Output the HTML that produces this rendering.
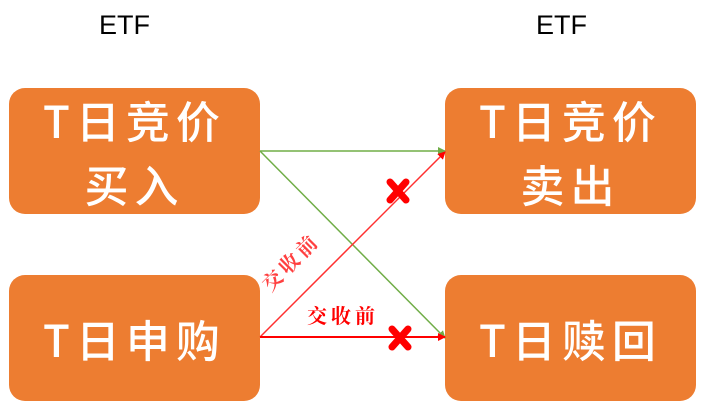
<!DOCTYPE html>
<html><head><meta charset="utf-8"><style>
body{margin:0;width:705px;height:411px;background:#fff;overflow:hidden;position:relative;font-family:"Liberation Sans","Noto Sans CJK SC",sans-serif}
.b{position:absolute;background:#ED7D31;border-radius:16px;color:#fff;text-align:center;font-family:"Noto Sans CJK SC",sans-serif;font-weight:500;font-size:44px;letter-spacing:6px;line-height:64px;display:flex;flex-direction:column;justify-content:center}
.t{position:absolute;font-size:27px;color:#000;top:10px}
</style></head><body>
<div class="t" style="left:99px">ETF</div>
<div class="t" style="left:536px">ETF</div>
<div class="b" style="left:9px;top:88px;width:251px;height:126px">T日竞价<br>买入</div>
<div class="b" style="left:445px;top:88px;width:251px;height:126px">T日竞价<br>卖出</div>
<div class="b" style="left:9px;top:275px;width:251px;height:126px">T日申购</div>
<div class="b" style="left:445px;top:275px;width:251px;height:126px">T日赎回</div>
<svg width="705" height="411" style="position:absolute;left:0;top:0">
<defs>
<marker id="g" markerWidth="8" markerHeight="8" refX="7" refY="4" orient="auto" markerUnits="userSpaceOnUse"><path d="M0,0L8,4L0,8z" fill="#70AD47"/></marker>
<marker id="r" markerWidth="8" markerHeight="8" refX="7" refY="4" orient="auto" markerUnits="userSpaceOnUse"><path d="M0,0L8,4L0,8z" fill="#FF0000"/></marker>
</defs>
<line x1="260" y1="151" x2="445" y2="151" stroke="#70AD47" stroke-width="1.5" marker-end="url(#g)"/>
<line x1="260" y1="151" x2="445" y2="338" stroke="#70AD47" stroke-width="1.5" marker-end="url(#g)"/>
<line x1="260" y1="337" x2="445" y2="152" stroke="#FF3030" stroke-width="1.5" marker-end="url(#r)"/>
<line x1="260" y1="337" x2="445" y2="337" stroke="#FF0000" stroke-width="2" marker-end="url(#r)"/>
<g stroke="#FF0000" stroke-width="7" stroke-linecap="round">
<line x1="390" y1="182" x2="406" y2="200"/><line x1="406" y1="182" x2="390" y2="200"/>
<line x1="392" y1="329" x2="408" y2="347"/><line x1="408" y1="329" x2="392" y2="347"/>
</g>
<text x="343" y="323" fill="#FF0000" font-size="20" font-weight="bold" text-anchor="middle" font-family="Noto Serif CJK SC,serif" letter-spacing="4">交收前</text>
<text x="0" y="0" fill="#FF4040" font-size="20" font-weight="bold" text-anchor="middle" font-family="Noto Serif CJK SC,serif" letter-spacing="4" transform="translate(296,267) rotate(-45)">交收前</text>
</svg>
</body></html>
